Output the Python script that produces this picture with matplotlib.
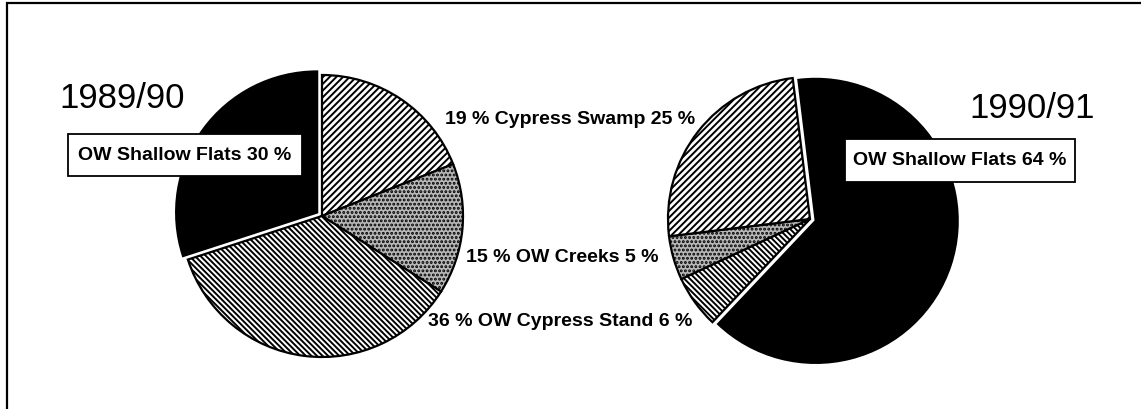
import matplotlib
matplotlib.use('Agg')
import matplotlib.pyplot as plt
from matplotlib import font_manager
from matplotlib.patches import Rectangle

# Habitat use, two seasons (percent)
categories = ['Cypress Swamp', 'OW Creeks', 'OW Cypress Stand', 'OW Shallow Flats']
season_1989 = [19, 15, 36, 30]
season_1990 = [25, 5, 6, 64]
seasons = ['1989/90', '1990/91']

# Pick a narrow bold face when it exists, like the original labels
font_names = {f.name for f in font_manager.fontManager.ttflist}
if 'Liberation Sans Narrow' in font_names:
    LABEL_FONT, LABEL_SIZE = 'Liberation Sans Narrow', 16.5
else:
    LABEL_FONT, LABEL_SIZE = 'Liberation Sans', 14

W, H = 1141, 410

fills = {
    'Cypress Swamp': dict(facecolor='white', hatch='/////'),
    'OW Creeks': dict(facecolor='#b8b8b8', hatch='....'),
    'OW Cypress Stand': dict(facecolor='white', hatch='\\' * 6),
    'OW Shallow Flats': dict(facecolor='black', hatch=None),
}


def draw_pie(ax, values, order, center, radius, startangle):
    """Draw one pie, black slice pulled out a little."""
    vals = [values[categories.index(c)] for c in order]
    explode = [6 if c == 'OW Shallow Flats' else 0 for c in order]
    wedges, _ = ax.pie(vals, explode=explode, center=center, radius=radius,
                       startangle=startangle, counterclock=False,
                       wedgeprops=dict(edgecolor='black', linewidth=1.6))
    for w, c in zip(wedges, order):
        w.set_facecolor(fills[c]['facecolor'])
        if fills[c]['hatch']:
            w.set_hatch(fills[c]['hatch'])


def label_box(ax, text, cx, cy, w, h):
    ax.add_patch(Rectangle((cx - w / 2, cy - h / 2), w, h, facecolor='white',
                           edgecolor='black', linewidth=1.3, zorder=5))
    ax.text(cx, cy, text, ha='center', va='center', family=LABEL_FONT,
            fontsize=LABEL_SIZE, fontweight='bold', zorder=6)


def main():
    plt.rcParams['hatch.linewidth'] = 1.4
    fig = plt.figure(figsize=(W / 100, H / 100), dpi=100)
    ax = fig.add_axes([0, 0, 1, 1])

    # left pie: clockwise from 12 o'clock
    draw_pie(ax, season_1989, categories, (322, H - 217), 141, 90)
    # right pie: black first, then stand, creeks, swamp
    right_order = ['OW Shallow Flats', 'OW Cypress Stand', 'OW Creeks', 'Cypress Swamp']
    draw_pie(ax, season_1990, right_order, (810, H - 220), 142, 97)

    ax.set_xlim(0, W)
    ax.set_ylim(0, H)
    ax.set_aspect('equal')
    ax.axis('off')

    # season titles
    ax.text(122, H - 98, seasons[0], ha='center', va='center',
            family='Liberation Sans', fontsize=25)
    ax.text(1032, H - 108, seasons[1], ha='center', va='center',
            family='Liberation Sans', fontsize=25)

    # boxed labels for the big black slice
    flats = categories.index('OW Shallow Flats')
    label_box(ax, f'OW Shallow Flats {season_1989[flats]} %', 185, H - 156, 234, 42)
    label_box(ax, f'OW Shallow Flats {season_1990[flats]} %', 960, H - 161, 230, 43)

    # shared labels between the pies
    spots = {'Cypress Swamp': (570, 120), 'OW Creeks': (562, 258),
             'OW Cypress Stand': (560, 322)}
    for c, (x, y) in spots.items():
        i = categories.index(c)
        ax.text(x, H - y, f'{season_1989[i]} % {c} {season_1990[i]} %',
                ha='center', va='center', family=LABEL_FONT,
                fontsize=LABEL_SIZE, fontweight='bold', zorder=6)

    # frame, running off the right and bottom edges like the scan
    ax.add_patch(Rectangle((7, -20), W + 40, H - 4 + 20, fill=False,
                           edgecolor='black', linewidth=1.6, clip_on=False))

    fig.savefig('out.png', dpi=100)


if __name__ == '__main__':
    main()
